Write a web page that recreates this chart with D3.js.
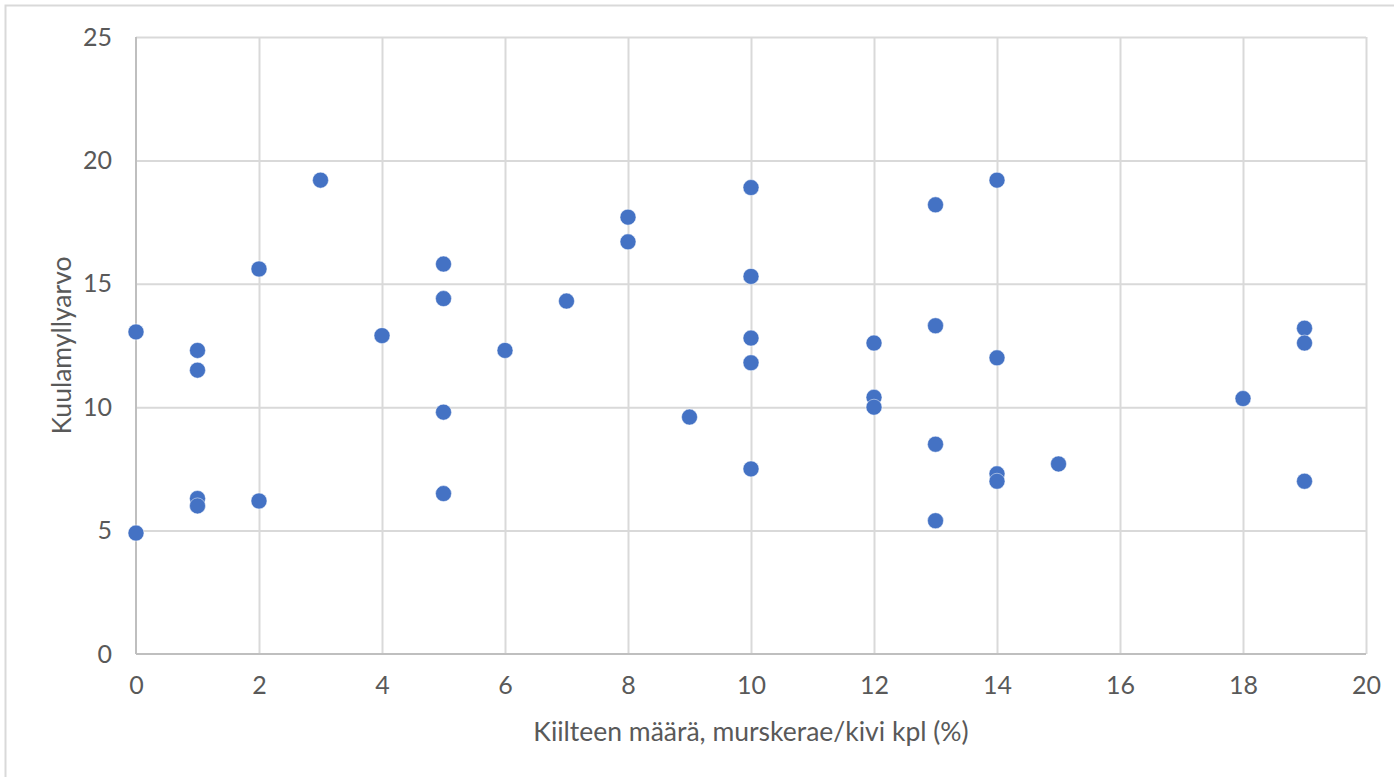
<!DOCTYPE html>
<html>
<head>
<meta charset="utf-8">
<script src="https://cdn.jsdelivr.net/npm/d3@7"></script>
<style>
  html, body { margin: 0; padding: 0; background: #fff; }
  svg { display: block; }
  text { font-family: Lato, "Open Sans", sans-serif; fill: #595959; }
</style>
</head>
<body>
<svg id="chart" width="1394" height="777"></svg>
<script>
// Mica content (%) vs. ball-mill value
const kiille = [0, 0, 1, 1, 1, 1, 2, 2, 3, 4, 5, 5, 5, 5, 6, 7, 8, 8, 9,
  10, 10, 10, 10, 10, 12, 12, 12, 13, 13, 13, 13, 14, 14, 14, 14, 15, 18, 19, 19, 19];
const kuulamylly = [13.05, 4.9, 12.3, 11.5, 6.3, 6.0, 15.6, 6.2, 19.2, 12.9, 15.8, 14.4, 9.8, 6.5, 12.3, 14.3, 17.7, 16.7, 9.6,
  18.9, 15.3, 12.8, 11.8, 7.5, 12.6, 10.4, 10.0, 18.2, 13.3, 8.5, 5.4, 19.2, 12.0, 7.3, 7.0, 7.7, 10.35, 13.2, 12.6, 7.0];

const xTicks = [0, 2, 4, 6, 8, 10, 12, 14, 16, 18, 20];
const yTicks = [0, 5, 10, 15, 20, 25];

const xTitle = "Kiilteen määrä, murskerae/kivi kpl (%)";
const yTitle = "Kuulamyllyarvo";

const svg = d3.select("#chart");
const W = 1394, H = 777;
const m = { left: 136, right: 1366, top: 37, bottom: 654 };

// outer chart-area frame
svg.append("rect")
  .attr("x", 5.5).attr("y", 5.5)
  .attr("width", W + 10).attr("height", H + 10)
  .attr("fill", "none").attr("stroke", "#d9d9d9").attr("stroke-width", 2);

const x = d3.scaleLinear().domain([0, 20]).range([m.left, m.right]);
const y = d3.scaleLinear().domain([0, 25]).range([m.bottom, m.top]);

// gridlines
svg.append("g")
  .attr("transform", `translate(0,${m.bottom})`)
  .call(d3.axisBottom(x).tickValues(xTicks.slice(1)).tickSize(-(m.bottom - m.top)).tickFormat(""))
  .call(g => g.select(".domain").remove())
  .call(g => g.selectAll("line").attr("stroke", "#d9d9d9").attr("stroke-width", 2));

svg.append("g")
  .attr("transform", `translate(${m.left},0)`)
  .call(d3.axisLeft(y).tickValues(yTicks.slice(1)).tickSize(-(m.right - m.left)).tickFormat(""))
  .call(g => g.select(".domain").remove())
  .call(g => g.selectAll("line").attr("stroke", "#d9d9d9").attr("stroke-width", 2));

// axis lines
svg.append("line")
  .attr("x1", x(0)).attr("x2", x(20)).attr("y1", y(0)).attr("y2", y(0))
  .attr("stroke", "#bfbfbf").attr("stroke-width", 2);
svg.append("line")
  .attr("x1", x(0)).attr("x2", x(0)).attr("y1", y(0)).attr("y2", y(25))
  .attr("stroke", "#bfbfbf").attr("stroke-width", 2);

// tick labels
const xAxis = svg.append("g")
  .attr("transform", `translate(0,${m.bottom})`)
  .call(d3.axisBottom(x).tickValues(xTicks).tickSize(0).tickPadding(22).tickFormat(d3.format("d")));
xAxis.select(".domain").remove();
xAxis.selectAll("text").style("font-size", "25px").attr("fill", "#595959").style("font-family", "Lato, sans-serif");

const yAxis = svg.append("g")
  .attr("transform", `translate(${m.left},0)`)
  .call(d3.axisLeft(y).tickValues(yTicks).tickSize(0).tickPadding(24).tickFormat(d3.format("d")));
yAxis.select(".domain").remove();
yAxis.selectAll("text").style("font-size", "25px").attr("fill", "#595959").style("font-family", "Lato, sans-serif");

// axis titles
svg.append("text")
  .attr("x", (m.left + m.right) / 2).attr("y", 741)
  .attr("text-anchor", "middle")
  .style("font-size", "26.5px")
  .text(xTitle);

svg.append("text")
  .attr("transform", `translate(71,${(m.top + m.bottom) / 2}) rotate(-90)`)
  .attr("text-anchor", "middle")
  .style("font-size", "26.5px")
  .text(yTitle);

// markers
const pts = kiille.map((k, i) => ({ k, v: kuulamylly[i] }));
svg.append("g")
  .selectAll("circle")
  .data(pts)
  .join("circle")
  .attr("cx", d => x(d.k))
  .attr("cy", d => y(d.v))
  .attr("r", 8)
  .attr("fill", "#4472c4")
  .attr("stroke", "#ffffff")
  .attr("stroke-opacity", 0.6)
  .attr("stroke-width", 0.8);
</script>
</body>
</html>
